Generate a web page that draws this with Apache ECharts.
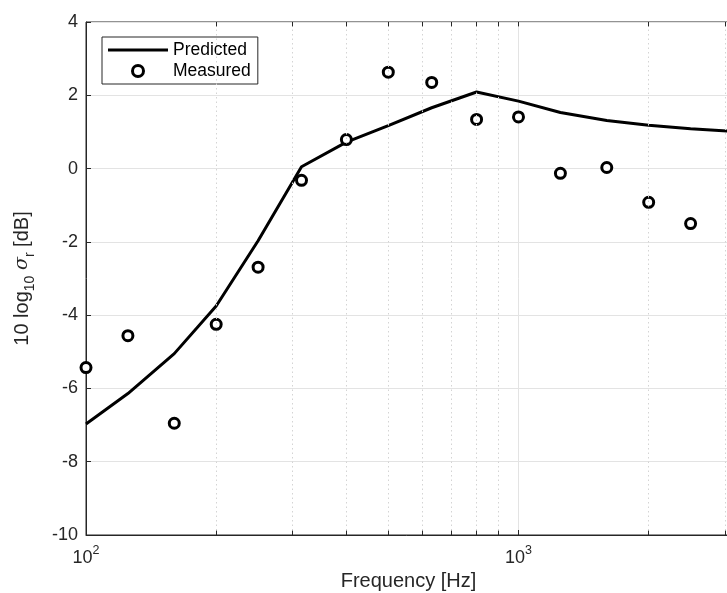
<!DOCTYPE html>
<html><head><meta charset="utf-8">
<script src="https://cdn.jsdelivr.net/npm/echarts@6/dist/echarts.min.js"></script>
<style>html,body{margin:0;padding:0;background:#fff}#c{width:727px;height:593px}</style>
</head><body><div id="c"></div>
<script>
const freqs = [100,125,160,200,250,315,400,500,630,800,1000,1250,1600,2000,2500,3150];
const predicted = [-6.97,-6.14,-5.05,-3.75,-1.97,0.05,0.72,1.17,1.66,2.09,1.84,1.53,1.31,1.18,1.09,1.01];
const measFreqs = [100,125,160,200,250,315,400,500,630,800,1000,1250,1600,2000,2500];
const measured = [-5.43,-4.56,-6.95,-4.25,-2.69,-0.32,0.79,2.63,2.35,1.34,1.41,-0.13,0.03,-0.92,-1.50];
const minorGrid = [200,300,400,500,600,700,800,900,2000,3000];
const majorX = [100,1000];
const yRange = [-10, 4];

const FONT = '"Liberation Sans", Arial, Helvetica, sans-serif';
const AX = '#262626';
const tickLen = 0.12; // in y data units
const tickSegs = [];
minorGrid.concat(majorX).forEach(f => {
  tickSegs.push([{coord: [f, yRange[0]]}, {coord: [f, yRange[0] + tickLen]}]);
  tickSegs.push([{coord: [f, yRange[1]]}, {coord: [f, yRange[1] - tickLen]}]);
});

const chart = echarts.init(document.getElementById('c'), null, {renderer:'canvas'});
chart.setOption({
  animation: false,
  backgroundColor: '#fff',
  textStyle: {fontFamily: FONT},
  grid: {left: 86, right: -4, top: 22, bottom: 58, show: true, borderColor: AX, borderWidth: 1,
         backgroundColor: 'transparent', containLabel: false, outerBoundsMode: 'none'},
  legend: {
    left: 102, top: 37, orient: 'vertical',
    borderColor: AX, borderWidth: 1, padding: [4, 7, 4, 6], itemGap: 3,
    itemWidth: 60, itemHeight: 11,
    textStyle: {fontFamily: FONT, fontSize: 17.5, color: '#000'},
    data: [
      {name: 'Predicted', icon: 'path://M0,0H60V3H0Z', itemStyle: {color: '#000'}},
      {name: 'Measured', icon: 'circle', itemStyle: {color: '#fff', borderColor: '#000', borderWidth: 3}}
    ]
  },
  xAxis: {
    type: 'log', logBase: 10, min: 100, max: 3100,
    name: 'Frequency [Hz]', nameLocation: 'middle', nameGap: 31,
    nameTextStyle: {fontFamily: FONT, fontSize: 20, color: AX},
    axisLine: {onZero: false, lineStyle: {color: AX}},
    axisTick: {inside: true, length: 5, lineStyle: {color: AX}},
    splitLine: {show: true, lineStyle: {color: '#e3e3e3', width: 1}},
    axisLabel: {
      margin: 9, color: AX,
      formatter: function (v) {
        const e = Math.round(Math.log10(v));
        if (Math.abs(Math.pow(10, e) - v) > 1e-6) return '';
        return '{b|10}{s|' + e + '}';
      },
      rich: {
        b: {fontFamily: FONT, fontSize: 18, color: AX, verticalAlign: 'bottom'},
        s: {fontFamily: FONT, fontSize: 12.5, color: AX, verticalAlign: 'bottom', padding: [0, 0, 10, 0]}
      }
    }
  },
  yAxis: {
    type: 'value', min: yRange[0], max: yRange[1], interval: 2,
    name: '{n|10 log}{sub|10}{n| }{sig|σ}{sub|r}{n| [dB]}',
    nameLocation: 'middle', nameGap: 54, nameRotate: 90,
    nameTextStyle: {
      color: AX,
      rich: {
        n: {fontFamily: FONT, fontSize: 20, color: AX, verticalAlign: 'bottom'},
        sig: {fontFamily: '"DejaVu Serif", "Liberation Serif", serif', fontStyle: 'italic', fontSize: 19, color: AX, verticalAlign: 'bottom'},
        sub: {fontFamily: FONT, fontSize: 14, color: AX, verticalAlign: 'bottom', padding: [0, 0, -5, 0]}
      }
    },
    axisLine: {show: true, lineStyle: {color: AX}},
    axisTick: {inside: true, length: 5, lineStyle: {color: AX}},
    splitLine: {show: true, lineStyle: {color: '#e3e3e3', width: 1}},
    axisLabel: {margin: 8, color: AX, fontFamily: FONT, fontSize: 18}
  },
  series: [
    {
      name: 'minor-grid', type: 'line', data: [], z: 1, silent: true,
      markLine: {
        silent: true, symbol: ['none', 'none'], label: {show: false},
        lineStyle: {color: '#d4d4d4', type: [1.5, 3], width: 1},
        data: minorGrid.map(f => ({xAxis: f}))
      }
    },
    {
      name: 'minor-ticks', type: 'line', data: [], z: 2, silent: true,
      markLine: {
        silent: true, symbol: ['none', 'none'], label: {show: false},
        lineStyle: {color: AX, type: 'solid', width: 1},
        data: tickSegs
      }
    },
    {
      name: 'Predicted', type: 'line', z: 3,
      data: freqs.map((f, i) => [f, predicted[i]]),
      symbol: 'none', lineStyle: {color: '#000', width: 3},
      itemStyle: {color: '#000'}
    },
    {
      name: 'Measured', type: 'scatter', z: 4,
      data: measFreqs.map((f, i) => [f, measured[i]]),
      symbol: 'circle', symbolSize: 10,
      itemStyle: {color: '#fff', borderColor: '#000', borderWidth: 3, opacity: 1}
    }
  ]
});
</script></body></html>
